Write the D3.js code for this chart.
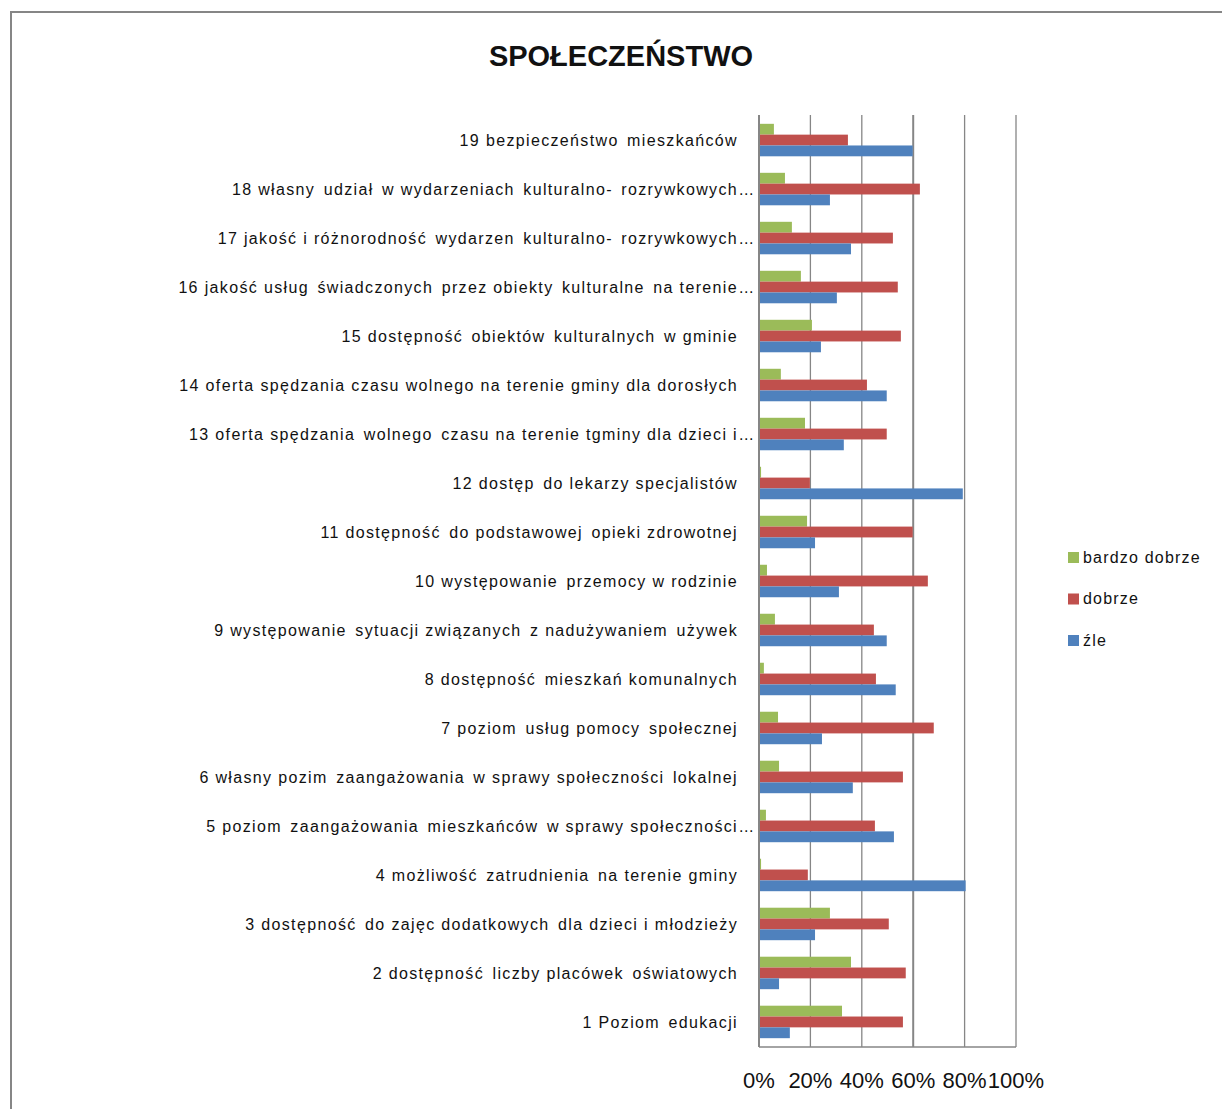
<!DOCTYPE html>
<html lang="pl">
<head>
<meta charset="UTF-8">
<title>SPOŁECZEŃSTWO</title>
<style>
    body { margin: 0; background: #fff; }
    svg text { font-family: "Liberation Sans", Arial, sans-serif; fill: #111; }
    .cat { font-size: 16px; white-space: pre; letter-spacing: 1.35px; }
    .tick-label { font-size: 22px; }
    .legend text { font-size: 16px; letter-spacing: 1.2px; }
</style>
</head>
<body>
<div id="chart"></div>
<script src="https://d3js.org/d3.v7.min.js"></script>
<script>
"use strict";

// categories, bottom (1) to top (19)
const categories = [
    "1 Poziom  edukacji",
    "2 dostępność  liczby placówek  oświatowych",
    "3 dostępność  do zajęc dodatkowych  dla dzieci i młodzieży",
    "4 możliwość  zatrudnienia  na terenie gminy",
    "5 poziom  zaangażowania  mieszkańców  w sprawy społeczności",
    "6 własny pozim  zaangażowania  w sprawy społeczności  lokalnej",
    "7 poziom  usług pomocy  społecznej",
    "8 dostępność  mieszkań komunalnych",
    "9 występowanie  sytuacji związanych  z nadużywaniem  używek",
    "10 występowanie  przemocy w rodzinie",
    "11 dostępność  do podstawowej  opieki zdrowotnej",
    "12 dostęp  do lekarzy specjalistów",
    "13 oferta spędzania  wolnego  czasu na terenie tgminy dla dzieci i",
    "14 oferta spędzania czasu wolnego na terenie gminy dla dorosłych",
    "15 dostępność  obiektów  kulturalnych  w gminie",
    "16 jakość usług  świadczonych  przez obiekty  kulturalne  na terenie",
    "17 jakość i różnorodność  wydarzen  kulturalno-  rozrywkowych",
    "18 własny  udział  w wydarzeniach  kulturalno-  rozrywkowych",
    "19 bezpieczeństwo  mieszkańców"
];
// labels that Excel cut off with "..."
const truncated = [5, 13, 16, 17, 18];

const seriesNames = ["bardzo dobrze", "dobrze", "źle"];
const seriesColors = ["#9BBB59", "#C0504D", "#4F81BD"];

// values in % (same order as categories)
const bardzoDobrze = [32.3, 35.8, 27.6, 0.8, 2.7, 7.8, 7.4, 1.9, 6.2, 3.1, 18.7, 0.8, 17.9, 8.5, 20.6, 16.3, 12.8, 10.1, 5.8];
const dobrze       = [56.0, 57.1, 50.5, 19.0, 45.1, 56.0, 68.0, 45.5, 44.7, 65.7, 59.8, 19.8, 49.7, 42.0, 55.2, 54.0, 52.1, 62.6, 34.6];
const zle          = [12.0, 7.8, 21.8, 80.4, 52.5, 36.5, 24.5, 53.2, 49.7, 31.1, 21.8, 79.3, 33.0, 49.7, 24.1, 30.3, 35.8, 27.6, 59.8];

const tickValues = [0, 20, 40, 60, 80, 100];

const series = [bardzoDobrze, dobrze, zle];

const width = 1222, height = 1109;
const plot = { left: 759, right: 1016, top: 115, bottom: 1047 };

const svg = d3.select("#chart").append("svg")
    .attr("width", width)
    .attr("height", height);

// outer frame (only top and left edges are visible)
svg.append("path")
    .attr("d", "M11," + height + "V12H" + width)
    .attr("fill", "none")
    .attr("stroke", "#868686")
    .attr("stroke-width", 2);

svg.append("text")
    .attr("x", 621)
    .attr("y", 66)
    .attr("text-anchor", "middle")
    .style("font-size", "29px")
    .style("font-weight", "bold")
    .text("SPOŁECZEŃSTWO");

const x = d3.scaleLinear().domain([0, 100]).range([plot.left, plot.right]);

const y0 = d3.scaleBand()
    .domain(categories.map((d, i) => i).reverse())
    .range([plot.top, plot.bottom])
    .paddingInner(0.337)
    .paddingOuter(0.18);

const y1 = d3.scaleBand()
    .domain(seriesNames.map((d, i) => i))
    .range([0, y0.bandwidth()]);

// grid lines
svg.append("g")
    .selectAll("line")
    .data(tickValues)
    .join("line")
    .attr("x1", d => x(d))
    .attr("x2", d => x(d))
    .attr("y1", plot.top)
    .attr("y2", plot.bottom)
    .attr("stroke", "#868686")
    .attr("stroke-width", d => (d === 0 || d === 60) ? 2 : 1.3);

svg.append("line")
    .attr("x1", x(0)).attr("x2", x(100))
    .attr("y1", plot.bottom).attr("y2", plot.bottom)
    .attr("stroke", "#868686")
    .attr("stroke-width", 1.3);

// bars
const groups = svg.append("g")
    .selectAll("g")
    .data(categories.map((c, i) => i))
    .join("g")
    .attr("transform", i => "translate(0," + y0(i) + ")");

groups.selectAll("rect")
    .data(i => series.map((s, k) => ({ k: k, v: s[i] })))
    .join("rect")
    .attr("x", x(0) + 1)
    .attr("y", d => y1(d.k))
    .attr("width", d => Math.max(0, x(d.v) - x(0) - 1))
    .attr("height", y1.bandwidth())
    .attr("fill", d => seriesColors[d.k]);

// category labels (double spaces drawn a bit narrower, like in the original)
const labels = svg.append("g");
categories.forEach((c, i) => {
    const cy = y0(i) + y0.bandwidth() / 2;
    labels.append("text")
        .attr("class", "cat")
        .attr("x", 738)
        .attr("y", cy)
        .attr("dy", "0.35em")
        .attr("text-anchor", "end")
        .text(c.replace(/  /g, " \u200A"));
    if (truncated.includes(i + 1)) {
        labels.append("text")
            .attr("class", "cat")
            .attr("x", 739)
            .attr("y", cy)
            .attr("dy", "0.35em")
            .style("letter-spacing", "0.5px")
            .text("...");
    }
});

// x tick labels
svg.append("g")
    .selectAll("text")
    .data(tickValues)
    .join("text")
    .attr("class", "tick-label")
    .attr("x", d => x(d))
    .attr("y", 1088)
    .attr("text-anchor", "middle")
    .text(d => d + "%");

// legend
const legend = svg.append("g").attr("class", "legend");
seriesNames.forEach((name, k) => {
    const ly = 557 + k * 41.5;
    legend.append("rect")
        .attr("x", 1068)
        .attr("y", ly - 5)
        .attr("width", 11)
        .attr("height", 11)
        .attr("fill", seriesColors[k]);
    legend.append("text")
        .attr("x", 1083)
        .attr("y", ly)
        .attr("dy", "0.35em")
        .text(name);
});
</script>
</body>
</html>
